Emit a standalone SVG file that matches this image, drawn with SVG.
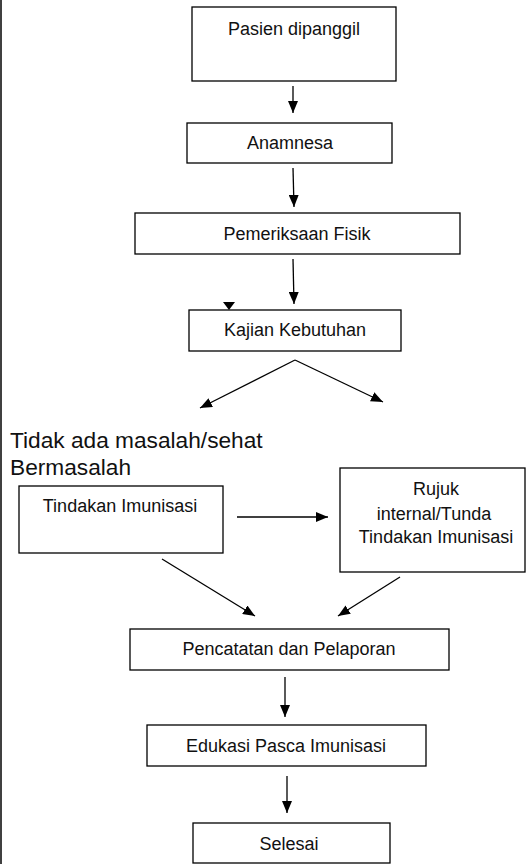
<svg xmlns="http://www.w3.org/2000/svg" width="526" height="864" viewBox="0 0 526 864">
<style>
  .box { fill: #ffffff; stroke: #000000; stroke-width: 1.3; }
  .lbl { font-family: "Liberation Sans", Arial, sans-serif; font-size: 18px; fill: #111111; text-anchor: middle; }
  .big { font-family: "Liberation Sans", Arial, sans-serif; font-size: 22.7px; fill: #111111; }
  .con { stroke: #000000; stroke-width: 1.3; fill: none; marker-end: url(#ah); }
</style>
<defs>
  <marker id="ah" markerUnits="userSpaceOnUse" markerWidth="12" markerHeight="10" refX="12" refY="5" orient="auto">
    <path d="M0,0 L12,5 L0,10 Z" fill="#000000"/>
  </marker>
</defs>
<rect x="0" y="0" width="526" height="864" fill="#ffffff"/>
<line x1="1" y1="0" x2="1" y2="864" stroke="#000000" stroke-width="1.5"/>

<g id="n-pasien">
  <rect class="box" x="192" y="7" width="204" height="74"/>
  <text class="lbl" x="294" y="35">Pasien dipanggil</text>
</g>
<g id="n-anamnesa">
  <rect class="box" x="187" y="123" width="205" height="40"/>
  <text class="lbl" x="290" y="149">Anamnesa</text>
</g>
<g id="n-pemeriksaan">
  <rect class="box" x="135" y="213" width="325" height="41"/>
  <text class="lbl" x="297" y="240">Pemeriksaan Fisik</text>
</g>
<g id="n-kajian">
  <rect class="box" x="189" y="310" width="212" height="41"/>
  <text class="lbl" x="295" y="336">Kajian Kebutuhan</text>
</g>
<g id="n-labels">
  <text class="big" x="10" y="448">Tidak ada masalah/sehat</text>
  <text class="big" x="10" y="475">Bermasalah</text>
</g>
<g id="n-tindakan">
  <rect class="box" x="19" y="486" width="204" height="67"/>
  <text class="lbl" x="120" y="512">Tindakan Imunisasi</text>
</g>
<g id="n-rujuk">
  <rect class="box" x="340" y="468" width="185" height="104"/>
  <text class="lbl" x="436" y="495">Rujuk</text>
  <text class="lbl" x="434" y="520">internal/Tunda</text>
  <text class="lbl" x="436" y="543">Tindakan Imunisasi</text>
</g>
<g id="n-pencatatan">
  <rect class="box" x="130" y="629" width="319" height="41"/>
  <text class="lbl" x="289" y="655">Pencatatan dan Pelaporan</text>
</g>
<g id="n-edukasi">
  <rect class="box" x="147" y="725" width="279" height="41"/>
  <text class="lbl" x="286" y="752">Edukasi Pasca Imunisasi</text>
</g>
<g id="n-selesai">
  <rect class="box" x="193" y="823" width="197" height="40"/>
  <text class="lbl" x="289" y="850">Selesai</text>
</g>

<g id="connectors">
  <line class="con" x1="293" y1="86" x2="293" y2="113"/>
  <line class="con" x1="293" y1="168" x2="294" y2="207"/>
  <line class="con" x1="293" y1="259" x2="294" y2="304"/>
  <path d="M223,302 L235,302 L229,310 Z" fill="#000000"/>
  <line class="con" x1="295" y1="360" x2="200" y2="408"/>
  <line class="con" x1="295" y1="360" x2="383" y2="402"/>
  <line class="con" x1="237" y1="517" x2="328" y2="517"/>
  <line class="con" x1="162" y1="559" x2="255" y2="616"/>
  <line class="con" x1="400" y1="577" x2="338" y2="616"/>
  <line class="con" x1="285" y1="677" x2="285" y2="717"/>
  <line class="con" x1="287" y1="776" x2="287" y2="813"/>
</g>
</svg>
